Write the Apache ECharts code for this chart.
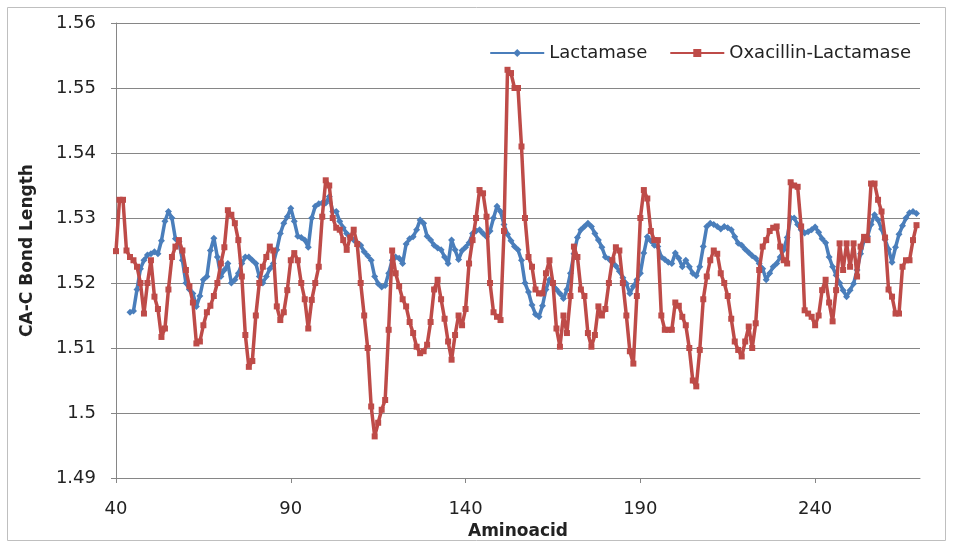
<!DOCTYPE html>
<html>
<head>
<meta charset="utf-8">
<style>
html,body{margin:0;padding:0;background:#fff;}
#main{width:953px;height:549px;}
</style>
<script src="https://cdn.jsdelivr.net/npm/echarts@6/dist/echarts.min.js"></script>
</head>
<body>
<div id="main"></div>
<script>
// aminoacid numbers where each series starts
var redStart = 40;
var blueStart = 44;

// CA-C bond length, Oxacillin-Lactamase (40..269)
var redValues = [
	1.5249, 1.5328, 1.5328, 1.5250, 1.5240, 1.5235, 1.5225, 1.5200, 1.5153, 1.5200,
	1.5235, 1.5179, 1.5160, 1.5117, 1.5130, 1.5190, 1.5240, 1.5256, 1.5266, 1.5250,
	1.5220, 1.5195, 1.5170, 1.5107, 1.5110, 1.5135, 1.5155, 1.5165, 1.5180, 1.5200,
	1.5230, 1.5255, 1.5312, 1.5305, 1.5292, 1.5266, 1.5210, 1.5120, 1.5071, 1.5080,
	1.5150, 1.5200, 1.5225, 1.5240, 1.5256, 1.5250, 1.5164, 1.5143, 1.5155, 1.5189,
	1.5235, 1.5246, 1.5235, 1.5200, 1.5175, 1.5130, 1.5174, 1.5200, 1.5225, 1.5302,
	1.5358, 1.5350, 1.5300, 1.5285, 1.5282, 1.5266, 1.5251, 1.5270, 1.5282, 1.5260,
	1.5200, 1.5150, 1.5100, 1.5010, 1.4964, 1.4985, 1.5005, 1.5020, 1.5128, 1.5250,
	1.5215, 1.5195, 1.5175, 1.5164, 1.5140, 1.5123, 1.5102, 1.5092, 1.5095, 1.5105,
	1.5140, 1.5190, 1.5205, 1.5175, 1.5145, 1.5110, 1.5082, 1.5120, 1.5150, 1.5135,
	1.5160, 1.5230, 1.5266, 1.5300, 1.5343, 1.5338, 1.5302, 1.5200, 1.5155, 1.5148,
	1.5143, 1.5280, 1.5528, 1.5523, 1.5500, 1.5500, 1.5410, 1.5300, 1.5240, 1.5225,
	1.5190, 1.5184, 1.5184, 1.5215, 1.5235, 1.5200, 1.5130, 1.5102, 1.5150, 1.5123,
	1.5180, 1.5256, 1.5240, 1.5190, 1.5180, 1.5123, 1.5102, 1.5120, 1.5164, 1.5150,
	1.5160, 1.5200, 1.5235, 1.5255, 1.5250, 1.5200, 1.5150, 1.5095, 1.5076, 1.5180,
	1.5300, 1.5343, 1.5330, 1.5280, 1.5266, 1.5266, 1.5150, 1.5128, 1.5128, 1.5128,
	1.5170, 1.5165, 1.5148, 1.5135, 1.5100, 1.5050, 1.5041, 1.5097, 1.5175, 1.5210,
	1.5235, 1.5250, 1.5245, 1.5215, 1.5200, 1.5180, 1.5145, 1.5110, 1.5097, 1.5087,
	1.5110, 1.5133, 1.5100, 1.5138, 1.5220, 1.5256, 1.5266, 1.5280, 1.5285, 1.5287,
	1.5256, 1.5235, 1.5230, 1.5355, 1.5350, 1.5348, 1.5287, 1.5158, 1.5153, 1.5148,
	1.5135, 1.5150, 1.5189, 1.5205, 1.5170, 1.5141, 1.5189, 1.5261, 1.5220, 1.5261,
	1.5225, 1.5261, 1.5210, 1.5256, 1.5271, 1.5266, 1.5353, 1.5353, 1.5328, 1.5310,
	1.5270, 1.5190, 1.5179, 1.5153, 1.5153, 1.5225, 1.5235, 1.5235, 1.5266, 1.5289
];

// CA-C bond length, Lactamase (44..269)
var blueValues = [
	1.5155, 1.5157, 1.5190, 1.5222, 1.5235, 1.5243,
	1.5245, 1.5248, 1.5245, 1.5265, 1.5295, 1.5310, 1.5300, 1.5268, 1.5264, 1.5235,
	1.5200, 1.5190, 1.5184, 1.5164, 1.5180, 1.5205, 1.5210, 1.5250, 1.5269, 1.5240,
	1.5210, 1.5220, 1.5230, 1.5200, 1.5205, 1.5215, 1.5230, 1.5240, 1.5240, 1.5235,
	1.5230, 1.5210, 1.5200, 1.5210, 1.5222, 1.5230, 1.5251, 1.5276, 1.5292, 1.5302,
	1.5315, 1.5295, 1.5272, 1.5270, 1.5266, 1.5255, 1.5300, 1.5318, 1.5322, 1.5323,
	1.5323, 1.5333, 1.5310, 1.5310, 1.5295, 1.5285, 1.5276, 1.5270, 1.5266, 1.5262,
	1.5258, 1.5248, 1.5242, 1.5235, 1.5210, 1.5199, 1.5194, 1.5196, 1.5215, 1.5235,
	1.5240, 1.5238, 1.5230, 1.5260, 1.5268, 1.5271, 1.5282, 1.5297, 1.5292, 1.5272,
	1.5266, 1.5258, 1.5254, 1.5251, 1.5240, 1.5230, 1.5266, 1.5251, 1.5236, 1.5250,
	1.5255, 1.5262, 1.5276, 1.5280, 1.5282, 1.5276, 1.5271, 1.5280, 1.5300, 1.5318,
	1.5310, 1.5290, 1.5275, 1.5265, 1.5256, 1.5251, 1.5235, 1.5200, 1.5186, 1.5166,
	1.5152, 1.5148, 1.5165, 1.5190, 1.5205, 1.5198, 1.5190, 1.5184, 1.5176, 1.5190,
	1.5215, 1.5245, 1.5270, 1.5282, 1.5287, 1.5292, 1.5287, 1.5276, 1.5266, 1.5255,
	1.5240, 1.5237, 1.5232, 1.5226, 1.5218, 1.5208, 1.5199, 1.5184, 1.5195, 1.5205,
	1.5215, 1.5246, 1.5271, 1.5265, 1.5258, 1.5256, 1.5240, 1.5236, 1.5232, 1.5230,
	1.5246, 1.5238, 1.5225, 1.5235, 1.5225, 1.5215, 1.5211, 1.5225, 1.5256, 1.5287,
	1.5292, 1.5290, 1.5287, 1.5283, 1.5287, 1.5285, 1.5282, 1.5271, 1.5261, 1.5258,
	1.5252, 1.5247, 1.5242, 1.5238, 1.5230, 1.5222, 1.5205, 1.5215, 1.5225, 1.5230,
	1.5240, 1.5251, 1.5270, 1.5300, 1.5300, 1.5290, 1.5282, 1.5277, 1.5279, 1.5282,
	1.5286, 1.5278, 1.5268, 1.5262, 1.5240, 1.5225, 1.5212, 1.5200, 1.5189, 1.5179,
	1.5189, 1.5199, 1.5220, 1.5245, 1.5266, 1.5272, 1.5290, 1.5305, 1.5297, 1.5283,
	1.5267, 1.5252, 1.5232, 1.5255, 1.5275, 1.5288, 1.5300, 1.5308, 1.5310, 1.5307
];

var xTicks = [40, 90, 140, 190, 240];
var seriesNames = ['Lactamase', 'Oxacillin-Lactamase'];

var toPairs = function(start, arr) {
	var out = [];
	for(var i = 0; i < arr.length; i++) {
		out.push([start + i, arr[i]]);
	}
	return out;
};

var chart = echarts.init(document.getElementById('main'), null, {renderer: 'canvas'});
var font = 'DejaVu Sans';
var option = {
	backgroundColor: '#fff',
	animation: false,
	graphic: [{
		type: 'rect',
		shape: {x: 7.5, y: 7.5, width: 938, height: 533},
		style: {fill: 'none', stroke: '#bfbfbf', lineWidth: 1},
		silent: true
	}],
	grid: {left: 116, right: 33, top: 23, bottom: 71},
	legend: {
		right: 42,
		top: 44,
		padding: 0,
		itemGap: 22,
		itemWidth: 54,
		itemHeight: 10,
		textStyle: {fontFamily: font, fontSize: 18, color: '#222'},
		data: seriesNames
	},
	xAxis: {
		type: 'value',
		min: 40,
		max: 270,
		interval: 50,
		name: 'Aminoacid',
		nameLocation: 'middle',
		nameGap: 44,
		nameTextStyle: {fontFamily: font, fontSize: 17, fontWeight: 'bold', color: '#222'},
		axisLine: {lineStyle: {color: '#868686', width: 1}},
		axisTick: {show: true, length: 5, lineStyle: {color: '#868686'}, customValues: xTicks},
		axisLabel: {fontFamily: font, fontSize: 18, color: '#222', margin: 22, customValues: xTicks},
		splitLine: {show: false}
	},
	yAxis: {
		type: 'value',
		min: 1.49,
		max: 1.56,
		interval: 0.01,
		name: 'CA-C Bond Length',
		nameLocation: 'middle',
		nameGap: 80,
		nameTextStyle: {fontFamily: font, fontSize: 17, fontWeight: 'bold', color: '#222'},
		axisLine: {show: true, lineStyle: {color: '#868686', width: 1}},
		axisTick: {show: true, length: 5, lineStyle: {color: '#868686'}},
		axisLabel: {
			fontFamily: font, fontSize: 18, color: '#222', margin: 20,
			formatter: function(v) { return String(+v.toFixed(2)); }
		},
		splitLine: {show: true, lineStyle: {color: '#868686', width: 1}}
	},
	series: [{
		name: seriesNames[0],
		type: 'line',
		data: toPairs(blueStart, blueValues),
		symbol: 'diamond',
		symbolSize: 7,
		showAllSymbol: true,
		color: '#4a7ebb',
		lineStyle: {width: 3.5, color: '#4a7ebb'},
		itemStyle: {color: '#4a7ebb'},
		z: 2
	}, {
		name: seriesNames[1],
		type: 'line',
		data: toPairs(redStart, redValues),
		symbol: 'rect',
		symbolSize: 6,
		showAllSymbol: true,
		color: '#be4b48',
		lineStyle: {width: 3.5, color: '#be4b48'},
		itemStyle: {color: '#be4b48'},
		z: 3
	}]
};
chart.setOption(option);
</script>
</body>
</html>
